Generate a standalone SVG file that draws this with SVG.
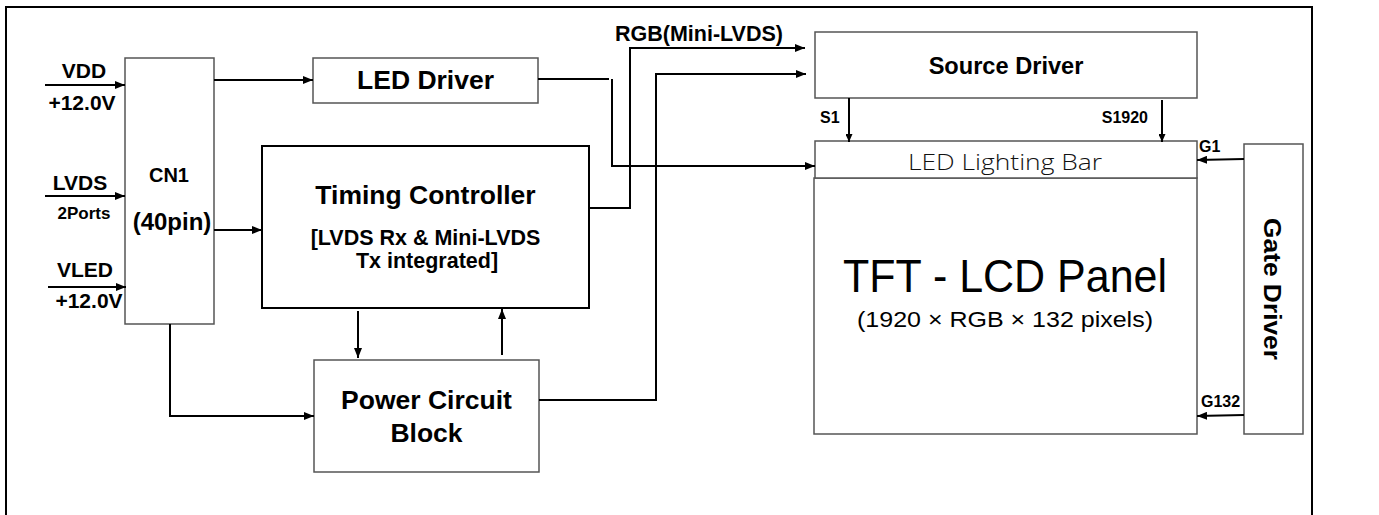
<svg xmlns="http://www.w3.org/2000/svg" width="1379" height="515" viewBox="0 0 1379 515">
<style>
  .box{fill:#fff;stroke:#555;stroke-width:1.5}
  .boxk{fill:#fff;stroke:#000;stroke-width:2}
  .ln{fill:none;stroke:#000;stroke-width:2}
  .b{font-family:"Liberation Sans",Arial,sans-serif;font-weight:bold;fill:#000}
  .r{font-family:"Liberation Sans",Arial,sans-serif;fill:#000}
  .lt{font-family:"Open Sans","Noto Sans",sans-serif;font-weight:300;fill:#111}
</style>
<defs>
  <marker id="ah" viewBox="0 0 10 8" refX="10" refY="4" markerWidth="10" markerHeight="8" markerUnits="userSpaceOnUse" orient="auto">
    <path d="M0,0 L10,4 L0,8 z" fill="#000"/>
  </marker>
  <marker id="as" viewBox="0 0 8 7" refX="8" refY="3.5" markerWidth="8" markerHeight="7" markerUnits="userSpaceOnUse" orient="auto">
    <path d="M0,0 L8,3.5 L0,7 z" fill="#000"/>
  </marker>
</defs>
<rect x="0" y="0" width="1379" height="515" fill="#fff"/>
<path d="M6,520 V7 H1312 V520" fill="none" stroke="#000" stroke-width="2"/>

<g id="inputs">
  <text class="b" x="84" y="78" font-size="21" text-anchor="middle">VDD</text>
  <text class="b" x="82" y="110" font-size="21" text-anchor="middle">+12.0V</text>
  <text class="b" x="80" y="190" font-size="21" text-anchor="middle">LVDS</text>
  <text class="b" x="84" y="219" font-size="17" text-anchor="middle">2Ports</text>
  <text class="b" x="85" y="277" font-size="21" text-anchor="middle">VLED</text>
  <text class="b" x="89" y="308" font-size="21" text-anchor="middle">+12.0V</text>
</g>

<g id="cn1">
  <rect class="box" x="125" y="58" width="89" height="266"/>
  <text class="b" x="169" y="182" font-size="20" text-anchor="middle">CN1</text>
  <text class="b" x="172" y="230" font-size="24" text-anchor="middle">(40pin)</text>
</g>

<g id="led-driver">
  <rect class="box" x="313" y="58" width="225" height="45"/>
  <text class="b" x="425.5" y="89" font-size="26.5" text-anchor="middle">LED Driver</text>
</g>

<g id="timing-controller">
  <rect class="boxk" x="262" y="146" width="327" height="162"/>
  <text class="b" x="425.5" y="204" font-size="26.5" text-anchor="middle">Timing Controller</text>
  <text class="b" x="425.5" y="245" font-size="21.5" text-anchor="middle">[LVDS Rx &amp; Mini-LVDS</text>
  <text class="b" x="427" y="268" font-size="21.5" text-anchor="middle">Tx integrated]</text>
</g>

<g id="power-circuit">
  <rect class="box" x="314" y="360" width="225" height="112"/>
  <text class="b" x="426.5" y="409" font-size="26.5" text-anchor="middle">Power Circuit</text>
  <text class="b" x="426.5" y="442" font-size="26.5" text-anchor="middle">Block</text>
</g>

<g id="source-driver">
  <rect class="box" x="815" y="32" width="382" height="66"/>
  <text class="b" x="1006" y="74" font-size="23.6" text-anchor="middle">Source Driver</text>
</g>

<g id="tft-panel">
  <rect class="box" x="814" y="178" width="383" height="256"/>
  <text class="r" x="1005" y="292" font-size="47" text-anchor="middle" textLength="324" lengthAdjust="spacingAndGlyphs">TFT - LCD Panel</text>
  <text class="r" x="1005" y="327" font-size="22" text-anchor="middle" textLength="296" lengthAdjust="spacingAndGlyphs">(1920 × RGB × 132 pixels)</text>
</g>

<g id="led-lighting-bar">
  <rect class="box" x="815" y="141" width="382" height="37"/>
  <text class="lt" x="1005" y="170" font-size="22" text-anchor="middle" textLength="194" lengthAdjust="spacingAndGlyphs">LED Lighting Bar</text>
</g>

<g id="gate-driver">
  <rect class="box" x="1244" y="144" width="59" height="290"/>
  <text class="b" transform="translate(1264,289) rotate(90)" font-size="24" text-anchor="middle" textLength="142" lengthAdjust="spacingAndGlyphs">Gate Driver</text>
</g>

<g id="connectors">
  <line class="ln" x1="45" y1="85" x2="125" y2="85" marker-end="url(#ah)"/>
  <line class="ln" x1="45" y1="196" x2="125" y2="196" marker-end="url(#ah)"/>
  <line class="ln" x1="48" y1="287" x2="126" y2="287" marker-end="url(#ah)"/>
  <line class="ln" x1="214" y1="80" x2="313" y2="80" marker-end="url(#ah)"/>
  <line class="ln" x1="214" y1="230" x2="262" y2="230" marker-end="url(#ah)"/>
  <path class="ln" d="M170,324 V416 H314" marker-end="url(#ah)"/>
  <line class="ln" x1="358" y1="311" x2="358" y2="358" marker-end="url(#ah)"/>
  <line class="ln" x1="502" y1="355" x2="502" y2="309" marker-end="url(#ah)"/>
  <line class="ln" x1="538" y1="79" x2="609" y2="79"/>
  <path class="ln" d="M612,79 V166 H815" marker-end="url(#ah)"/>
  <path class="ln" d="M589,208 H630 V48 H805" marker-end="url(#ah)"/>
  <path class="ln" d="M539,400 H656 V74 H806" marker-end="url(#ah)"/>
  <line class="ln" x1="849" y1="98" x2="849" y2="142" marker-end="url(#as)"/>
  <line class="ln" x1="1162" y1="100" x2="1162" y2="142" marker-end="url(#as)"/>
  <line class="ln" x1="1244" y1="159" x2="1197" y2="160" marker-end="url(#ah)"/>
  <line class="ln" x1="1244" y1="415" x2="1197" y2="416" marker-end="url(#ah)"/>
</g>

<g id="labels">
  <text class="b" x="615" y="41" font-size="22" textLength="168" lengthAdjust="spacingAndGlyphs">RGB(Mini-LVDS)</text>
  <text class="b" x="820" y="123" font-size="16">S1</text>
  <text class="b" x="1148" y="123" font-size="16" text-anchor="end">S1920</text>
  <text class="b" x="1199" y="152" font-size="16">G1</text>
  <text class="b" x="1201" y="407" font-size="16">G132</text>
</g>
</svg>
